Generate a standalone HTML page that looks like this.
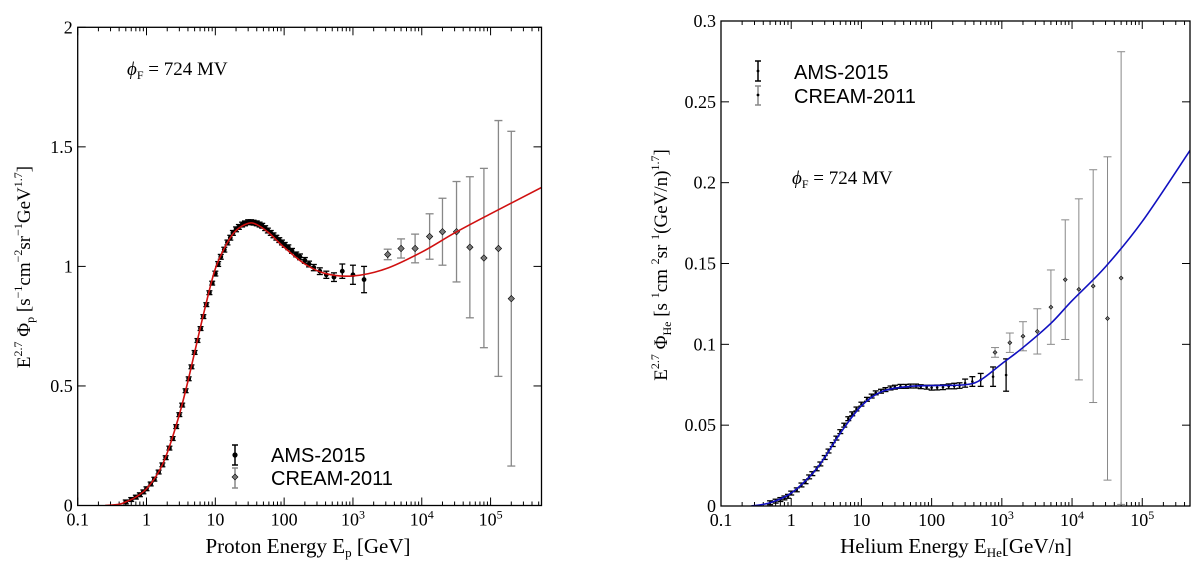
<!DOCTYPE html>
<html><head><meta charset="utf-8">
<style>
html,body{margin:0;padding:0;background:#fff;}
svg{display:block;font-family:"Liberation Serif",serif;}
</style></head>
<body>
<svg id="fig" width="1200" height="567" viewBox="0 0 1200 567"></svg>
<script>
// ---------- Proton panel data ----------
const pCurveE = [0.25,0.4,0.5,0.7,1,1.5,2,3,4,5,7,10,15,20,30,40,60,100,200,400,1000,3000,10000,30000,100000,550000];
const pCurveY = [0,0.005,0.015,0.035,0.07,0.14,0.22,0.38,0.52,0.64,0.82,0.99,1.10,1.15,1.18,1.175,1.14,1.08,1.01,0.97,0.96,0.99,1.06,1.14,1.22,1.33];
const pAmsE = [0.5,0.6,0.7,0.8,0.9,1,1.15,1.3,1.5,1.7,1.9,2.15,2.4,2.7,3,3.3,3.7,4.1,4.5,5,5.5,6.1,6.7,7.4,8.2,9,10,11,12,13.5,15,16.5,18,20,22,24.5,27,30,33,36,40,44,48,53,58,64,70,77,85,93,102,115,130,150,170,200,230,270,330,410,530,700,1000,1450];
const pAmsY = [0.015,0.025,0.035,0.045,0.057,0.07,0.09,0.11,0.14,0.17,0.2,0.24,0.28,0.33,0.38,0.42,0.48,0.53,0.58,0.64,0.69,0.74,0.79,0.84,0.89,0.93,0.97,1.01,1.04,1.07,1.10,1.12,1.14,1.155,1.165,1.175,1.18,1.185,1.185,1.183,1.18,1.175,1.17,1.16,1.15,1.14,1.13,1.12,1.11,1.10,1.09,1.08,1.065,1.05,1.04,1.025,1.01,0.995,0.98,0.965,0.955,0.98,0.965,0.945];
const pAmsErr = [0.008,0.008,0.008,0.008,0.008,0.008,0.008,0.008,0.008,0.008,0.008,0.008,0.008,0.008,0.008,0.008,0.008,0.008,0.008,0.008,0.008,0.008,0.008,0.008,0.008,0.008,0.01,0.01,0.01,0.01,0.01,0.01,0.01,0.01,0.01,0.01,0.01,0.01,0.01,0.01,0.01,0.01,0.01,0.01,0.01,0.01,0.01,0.01,0.01,0.01,0.01,0.01,0.01,0.01,0.012,0.012,0.012,0.013,0.014,0.015,0.018,0.03,0.04,0.055];
const pCreamE = [3200,5000,8000,13000,20000,32000,50000,80000,130000,200000];
const pCreamY = [1.05,1.075,1.075,1.125,1.145,1.145,1.08,1.035,1.075,0.865];
const pCreamErr = [0.022,0.04,0.06,0.095,0.14,0.21,0.295,0.375,0.535,0.70];
const pYTicks = [0,0.5,1,1.5,2];
const pYTickLabels = ["0","0.5","1","1.5","2"];

// ---------- Helium panel data ----------
const hCurveE = [0.27,0.5,1,2,3,5,10,20,50,100,300,500,1000,2000,5000,10000,30000,100000,480000];
const hCurveY = [0,0.002,0.008,0.02,0.03,0.045,0.062,0.071,0.074,0.0745,0.075,0.078,0.088,0.098,0.113,0.127,0.148,0.176,0.22];
const hAmsE = [0.5,0.6,0.7,0.8,0.9,1,1.2,1.4,1.6,1.8,2,2.3,2.6,3,3.4,3.9,4.4,5,5.7,6.5,7.4,8.5,10,12,14,16,19,22,26,30,36,43,50,60,70,85,100,120,145,175,210,250,300,380,500,750,1150];
const hAmsY = [0.002,0.003,0.004,0.005,0.006,0.008,0.01,0.013,0.015,0.018,0.02,0.023,0.026,0.03,0.034,0.038,0.042,0.046,0.05,0.054,0.057,0.06,0.063,0.066,0.068,0.07,0.071,0.072,0.073,0.0735,0.074,0.074,0.0742,0.0742,0.0738,0.0735,0.0732,0.0733,0.0735,0.074,0.0742,0.0745,0.076,0.077,0.078,0.080,0.081];
const hAmsErr = [0.0012,0.0012,0.0012,0.0012,0.0012,0.0012,0.0012,0.0012,0.0012,0.0012,0.0012,0.0012,0.0012,0.0012,0.0012,0.0012,0.0012,0.0012,0.0012,0.0012,0.0012,0.0012,0.0012,0.0012,0.0012,0.0012,0.0012,0.0012,0.0012,0.0012,0.0012,0.0012,0.0012,0.0012,0.0012,0.0012,0.0015,0.0015,0.0015,0.0015,0.0017,0.0017,0.0025,0.003,0.004,0.006,0.010];
const hCreamE = [800,1300,2000,3200,5000,8000,12500,20000,32000,50000];
const hCreamY = [0.095,0.101,0.105,0.108,0.123,0.140,0.134,0.136,0.116,0.141];
const hCreamErr = [0.003,0.006,0.009,0.014,0.023,0.037,0.056,0.072,0.100,0.140];
const hYTicks = [0,0.05,0.1,0.15,0.2,0.25,0.3];
const hYTickLabels = ["0","0.05","0.1","0.15","0.2","0.25","0.3"];

const xTickVals = [0.1,1,10,100,1000,10000,100000];
const xTickLabels = ["0.1","1","10","100","10<tspan dy='-7' font-size='12'>3</tspan>","10<tspan dy='-7' font-size='12'>4</tspan>","10<tspan dy='-7' font-size='12'>5</tspan>"];

const NS="http://www.w3.org/2000/svg";
const svg=document.getElementById('fig');
function mk(tag,attrs,parent){const e=document.createElementNS(NS,tag);for(const k in attrs)e.setAttribute(k,attrs[k]);(parent||svg).appendChild(e);return e;}

function panel(cfg){
  const g=mk('g',{});
  
  
  const {x0,x1,y0,y1,xmin,xmax,ymax}=cfg;
  const lx=Math.log10(xmin),hx=Math.log10(xmax);
  const X=e=>x0+(Math.log10(e)-lx)/(hx-lx)*(x1-x0);
  const Y=v=>y1-v/ymax*(y1-y0);
  const tg=mk('g',{stroke:'#000','stroke-width':1},g);
  
  
  for(let d=Math.floor(lx);d<=Math.ceil(hx);d++){
    for(let m=1;m<10;m++){
      const v=m*Math.pow(10,d); if(v<xmin||v>xmax)continue;
      const xp=X(v),len=m===1?8:4;
      mk('line',{x1:xp,x2:xp,y1:y1,y2:y1-len},tg);
      mk('line',{x1:xp,x2:xp,y1:y0,y2:y0+len},tg);
    }
  }
  cfg.yTicks.forEach((v,i)=>{
    const yp=Y(v);
    mk('line',{x1:x0,x2:x0+8,y1:yp,y2:yp},tg);
    mk('line',{x1:x1,x2:x1-8,y1:yp,y2:yp},tg);
    const t=mk('text',{x:x0-5,y:yp+6,'text-anchor':'end','font-size':18},g);
    t.textContent=cfg.yTickLabels[i];
    
    
  });
  xTickVals.forEach((v,i)=>{
    const t=mk('text',{x:X(v),y:y1+20,'text-anchor':'middle','font-size':18},g);
    t.innerHTML=xTickLabels[i];
    
    
  });
  const cid='clip'+cfg.name;
  const cp=mk('clipPath',{id:cid},g); mk('rect',{x:x0,y:y0,width:x1-x0,height:y1-y0},cp);
  const pg=mk('g',{'clip-path':'url(#'+cid+')'},g);
  cfg.cE.forEach((e,i)=>{
    const xp=X(e),a=Y(cfg.cY[i]-cfg.cErr[i]),b=Y(cfg.cY[i]+cfg.cErr[i]);
    const eg=mk('g',{stroke:'#888','stroke-width':cfg.cw},pg);
    
    
    mk('line',{x1:xp,x2:xp,y1:a,y2:b},eg);
    mk('line',{x1:xp-4,x2:xp+4,y1:a,y2:a},eg);
    mk('line',{x1:xp-4,x2:xp+4,y1:b,y2:b},eg);
    const yp=Y(cfg.cY[i]),r=cfg.dr;
    mk('polygon',{points:`${xp},${yp-r} ${xp+r},${yp} ${xp},${yp+r} ${xp-r},${yp}`,fill:'#777',stroke:'#000','stroke-width':0.6},eg);
  });
  cfg.aE.forEach((e,i)=>{
    const xp=X(e),a=Y(cfg.aY[i]-cfg.aErr[i]),b=Y(cfg.aY[i]+cfg.aErr[i]);
    const eg=mk('g',{stroke:'#000','stroke-width':1.3},pg);
    
    
    mk('line',{x1:xp,x2:xp,y1:a,y2:b},eg);
    mk('line',{x1:xp-3,x2:xp+3,y1:a,y2:a},eg);
    mk('line',{x1:xp-3,x2:xp+3,y1:b,y2:b},eg);
    mk('circle',{cx:xp,cy:Y(cfg.aY[i]),r:cfg.ar,fill:'#000',stroke:'none'},eg);
  });
  const pts=cfg.curveE.map((e,i)=>[X(e),Y(cfg.curveY[i])]);
  let d=`M${pts[0][0]},${pts[0][1]}`;
  for(let i=0;i<pts.length-1;i++){
    const p0=pts[Math.max(0,i-1)],p1=pts[i],p2=pts[i+1],p3=pts[Math.min(pts.length-1,i+2)];
    d+=` C${p1[0]+(p2[0]-p0[0])/6},${p1[1]+(p2[1]-p0[1])/6} ${p2[0]-(p3[0]-p1[0])/6},${p2[1]-(p3[1]-p1[1])/6} ${p2[0]},${p2[1]}`;
  }
  const c=mk('path',{d,fill:'none',stroke:cfg.color,'stroke-width':1.6},pg);
  
  
  const fr=mk('rect',{x:x0,y:y0,width:x1-x0,height:y1-y0,fill:'none',stroke:'#000','stroke-width':1.3},g);
  
  
  return g;
}

panel({name:'proton-panel',x0:77.7,x1:541.5,y0:27.3,y1:505.5,xmin:0.1,xmax:Math.pow(10,5.74),ymax:2,
  yTicks:pYTicks,yTickLabels:pYTickLabels,curveE:pCurveE,curveY:pCurveY,aE:pAmsE,aY:pAmsY,aErr:pAmsErr,
  cE:pCreamE,cY:pCreamY,cErr:pCreamErr,color:'#d01010',cw:1.3,dr:3.2,ar:2.4});
panel({name:'helium-panel',x0:721,x1:1190,y0:21,y1:506,xmin:0.1,xmax:Math.pow(10,5.68),ymax:0.3,
  yTicks:hYTicks,yTickLabels:hYTickLabels,curveE:hCurveE,curveY:hCurveY,aE:hAmsE,aY:hAmsY,aErr:hAmsErr,
  cE:hCreamE,cY:hCreamY,cErr:hCreamErr,color:'#1010c0',cw:1,dr:2,ar:1.3});
</script>
<svg width="1200" height="567" style="position:absolute;left:0;top:0">
  <g font-family="Liberation Serif, serif" fill="#000">
    <text x="127" y="75" font-size="19"><tspan font-style="italic">ϕ</tspan><tspan font-size="12" dy="4">F</tspan><tspan dy="-4"> = 724 MV</tspan></text>
    <text x="792" y="184" font-size="19"><tspan font-style="italic">ϕ</tspan><tspan font-size="12" dy="4">F</tspan><tspan dy="-4"> = 724 MV</tspan></text>
    <g>
      <line x1="235" x2="235" y1="445" y2="465" stroke="#000" stroke-width="1.5"/><line x1="232" x2="238" y1="445" y2="445" stroke="#000" stroke-width="1.5"/><line x1="232" x2="238" y1="465" y2="465" stroke="#000" stroke-width="1.5"/><circle cx="235" cy="455" r="2.6"/>
      <line x1="235" x2="235" y1="468" y2="488" stroke="#888" stroke-width="1.5"/><line x1="232" x2="238" y1="468" y2="468" stroke="#888" stroke-width="1.5"/><line x1="232" x2="238" y1="488" y2="488" stroke="#888" stroke-width="1.5"/><polygon points="235,474 238,477 235,480 232,477" fill="#777" stroke="#000" stroke-width="0.6"/>
      <text x="271" y="462" font-size="20" font-family="Liberation Sans, sans-serif">AMS-2015</text>
      <text x="271" y="485" font-size="20" font-family="Liberation Sans, sans-serif">CREAM-2011</text>
    </g>
    <g>
      <line x1="758" x2="758" y1="61" y2="81" stroke="#000" stroke-width="1.5"/><line x1="755" x2="761" y1="61" y2="61" stroke="#000" stroke-width="1.5"/><line x1="755" x2="761" y1="81" y2="81" stroke="#000" stroke-width="1.5"/><circle cx="758" cy="71" r="1.4"/>
      <line x1="758" x2="758" y1="86" y2="105" stroke="#888" stroke-width="1.5"/><line x1="755" x2="761" y1="86" y2="86" stroke="#888" stroke-width="1.5"/><line x1="755" x2="761" y1="105" y2="105" stroke="#888" stroke-width="1.5"/><circle cx="758" cy="95" r="1.4"/>
      <text x="794" y="79" font-size="20" font-family="Liberation Sans, sans-serif">AMS-2015</text>
      <text x="794" y="103" font-size="20" font-family="Liberation Sans, sans-serif">CREAM-2011</text>
    </g>
    <text x="308" y="553" font-size="21" text-anchor="middle">Proton Energy E<tspan font-size="13" dy="4">p</tspan><tspan dy="-4"> [GeV]</tspan></text>
    <text x="956" y="553" font-size="21" text-anchor="middle">Helium Energy E<tspan font-size="13" dy="4">He</tspan><tspan dy="-4">[GeV/n]</tspan></text>
    <text transform="translate(30,267) rotate(-90)" font-size="19" text-anchor="middle">E<tspan font-size="12" dy="-8">2.7</tspan><tspan dy="8"> Φ</tspan><tspan font-size="12" dy="4">p</tspan><tspan dy="-4"> [s</tspan><tspan font-size="12" dy="-8">−1</tspan><tspan dy="8">cm</tspan><tspan font-size="12" dy="-8">−2</tspan><tspan dy="8">sr</tspan><tspan font-size="12" dy="-8">−1</tspan><tspan dy="8">GeV</tspan><tspan font-size="12" dy="-8">1.7</tspan><tspan dy="8">]</tspan></text>
    <text transform="translate(667,265) rotate(-90)" font-size="19" text-anchor="middle">E<tspan font-size="12" dy="-8">2.7</tspan><tspan dy="8"> Φ</tspan><tspan font-size="12" dy="4">He</tspan><tspan dy="-4"> [s </tspan><tspan font-size="12" dy="-8">1</tspan><tspan dy="8">cm </tspan><tspan font-size="12" dy="-8">2</tspan><tspan dy="8">sr </tspan><tspan font-size="12" dy="-8">1</tspan><tspan dy="8">(GeV/n)</tspan><tspan font-size="12" dy="-8">1.7</tspan><tspan dy="8">]</tspan></text>
  </g>
</svg>
</body></html>
